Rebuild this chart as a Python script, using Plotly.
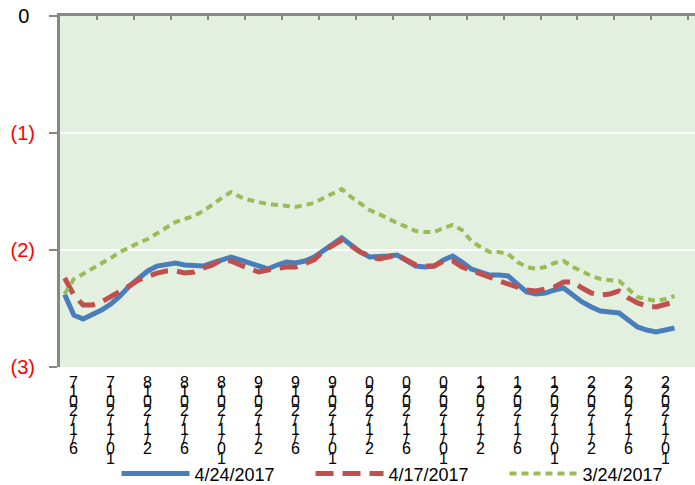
import plotly.graph_objects as go

# monthly contract months (category axis), labels every 4 months
months = ["5/1/2017", "6/1/2017", "7/1/2017", "8/1/2017", "9/1/2017", "10/1/2017", "11/1/2017", "12/1/2017",
          "1/1/2018", "2/1/2018", "3/1/2018", "4/1/2018", "5/1/2018", "6/1/2018", "7/1/2018", "8/1/2018",
          "9/1/2018", "10/1/2018", "11/1/2018", "12/1/2018", "1/1/2019", "2/1/2019", "3/1/2019", "4/1/2019",
          "5/1/2019", "6/1/2019", "7/1/2019", "8/1/2019", "9/1/2019", "10/1/2019", "11/1/2019", "12/1/2019",
          "1/1/2020", "2/1/2020", "3/1/2020", "4/1/2020", "5/1/2020", "6/1/2020", "7/1/2020", "8/1/2020",
          "9/1/2020", "10/1/2020", "11/1/2020", "12/1/2020", "1/1/2021", "2/1/2021", "3/1/2021", "4/1/2021",
          "5/1/2021", "6/1/2021", "7/1/2021", "8/1/2021", "9/1/2021", "10/1/2021", "11/1/2021", "12/1/2021",
          "1/1/2022", "2/1/2022", "3/1/2022", "4/1/2022", "5/1/2022", "6/1/2022", "7/1/2022", "8/1/2022",
          "9/1/2022", "10/1/2022", "11/1/2022"]

tick_labels = ["6/1/2017", "10/1/2017", "2/1/2018", "6/1/2018", "10/1/2018", "2/1/2019", "6/1/2019",
               "10/1/2019", "2/1/2020", "6/1/2020", "10/1/2020", "2/1/2021", "6/1/2021", "10/1/2021",
               "2/1/2022", "6/1/2022", "10/1/2022"]

curve_0424 = [-2.380, -2.556, -2.590, -2.556, -2.513, -2.462, -2.393, -2.308, -2.239, -2.179,
              -2.137, -2.120, -2.111, -2.128, -2.137, -2.137, -2.111, -2.085, -2.060, -2.085,
              -2.111, -2.137, -2.162, -2.128, -2.103, -2.111, -2.094, -2.060, -2.009, -1.949,
              -1.897, -1.957, -2.017, -2.060, -2.060, -2.051, -2.043, -2.094, -2.137, -2.145,
              -2.137, -2.085, -2.051, -2.103, -2.162, -2.188, -2.214, -2.214, -2.222, -2.291,
              -2.359, -2.376, -2.368, -2.342, -2.325, -2.385, -2.444, -2.487, -2.521, -2.530,
              -2.538, -2.598, -2.658, -2.684, -2.701, -2.684, -2.667]

curve_0417 = [-2.239, -2.385, -2.470, -2.470, -2.444, -2.402, -2.350, -2.308, -2.256, -2.222,
              -2.197, -2.179, -2.179, -2.197, -2.188, -2.154, -2.128, -2.085, -2.094, -2.128,
              -2.154, -2.188, -2.171, -2.154, -2.145, -2.145, -2.120, -2.085, -2.009, -1.957,
              -1.915, -1.966, -2.017, -2.051, -2.077, -2.060, -2.043, -2.085, -2.128, -2.137,
              -2.137, -2.094, -2.094, -2.145, -2.171, -2.197, -2.231, -2.265, -2.291, -2.316,
              -2.342, -2.350, -2.333, -2.316, -2.274, -2.274, -2.325, -2.368, -2.385, -2.376,
              -2.350, -2.410, -2.453, -2.479, -2.487, -2.462, -2.444]

curve_0324 = [-2.376, -2.248, -2.205, -2.162, -2.120, -2.068, -2.017, -1.974, -1.940, -1.906,
              -1.855, -1.812, -1.761, -1.735, -1.709, -1.667, -1.607, -1.556, -1.504, -1.547,
              -1.573, -1.590, -1.607, -1.615, -1.624, -1.632, -1.615, -1.598, -1.556, -1.513,
              -1.479, -1.547, -1.607, -1.658, -1.692, -1.735, -1.769, -1.803, -1.838, -1.846,
              -1.846, -1.812, -1.786, -1.829, -1.923, -1.974, -2.017, -2.017, -2.034, -2.103,
              -2.145, -2.162, -2.145, -2.111, -2.094, -2.145, -2.188, -2.222, -2.248, -2.256,
              -2.265, -2.333, -2.402, -2.419, -2.436, -2.419, -2.393]

series_names = ["4/24/2017", "4/17/2017", "3/24/2017"]
y_ticks = [0, -1, -2, -3]
y_tick_text = ["<span style='color:black'>0</span>\u00a0", "(1)", "(2)", "(3)"]

FONT = "Liberation Sans"
idx = list(range(len(months)))

fig = go.Figure()
fig.add_trace(go.Scatter(x=idx, y=curve_0424, name=series_names[0], mode="lines",
                         line=dict(color="#4A7EBB", width=5)))
fig.add_trace(go.Scatter(x=idx, y=curve_0417, name=series_names[1], mode="lines",
                         line=dict(color="#C0504D", width=5, dash="18px,9px")))
fig.add_trace(go.Scatter(x=idx, y=curve_0324, name=series_names[2], mode="lines",
                         line=dict(color="#9BBB59", width=4, dash="7px,5px")))

# stacked (reversed) category labels under the plot
label_pos = [months.index(t) for t in tick_labels]
annotations = []
for pos, lab in zip(label_pos, tick_labels):
    for r, ch in enumerate(lab[::-1]):
        annotations.append(dict(x=pos, y=0, xref="x", yref="paper", text=ch, showarrow=False,
                                xanchor="center", yanchor="middle", yshift=-(15 + 9.5 * r),
                                font=dict(family=FONT, size=16, color="black")))

fig.update_layout(
    width=695, height=485,
    margin=dict(l=60, r=0, t=16, b=118, autoexpand=False),
    paper_bgcolor="white", plot_bgcolor="#E3F0DF",
    font=dict(family=FONT, color="black"),
    showlegend=True,
    legend=dict(orientation="h", x=0.089, xanchor="left", y=-0.3045, yanchor="middle",
                font=dict(family=FONT, size=18, color="black"), itemwidth=68,
                entrywidth=111, entrywidthmode="pixels", bgcolor="rgba(0,0,0,0)"),
    annotations=annotations,
    xaxis=dict(range=[-0.5, 68.22], side="top", showline=True, linecolor="#878787", linewidth=3,
               ticks="inside", ticklen=4, tickwidth=2, tickcolor="#878787",
               tickvals=[3.5 + 4 * k for k in range(17)], showticklabels=False,
               showgrid=False, zeroline=False, automargin=False),
    yaxis=dict(range=[-3, 0], showline=True, linecolor="#878787", linewidth=3,
               ticks="outside", ticklen=8, tickwidth=2, tickcolor="#878787",
               tickvals=y_ticks, ticktext=y_tick_text, ticklabelstandoff=10,
               tickfont=dict(family=FONT, size=20, color="#FF0000"),
               showgrid=True, gridcolor="white", gridwidth=2, zeroline=False, automargin=False),
)

fig.write_html("out.html", config={"displayModeBar": False},
               post_script="document.body.style.margin='0';")
